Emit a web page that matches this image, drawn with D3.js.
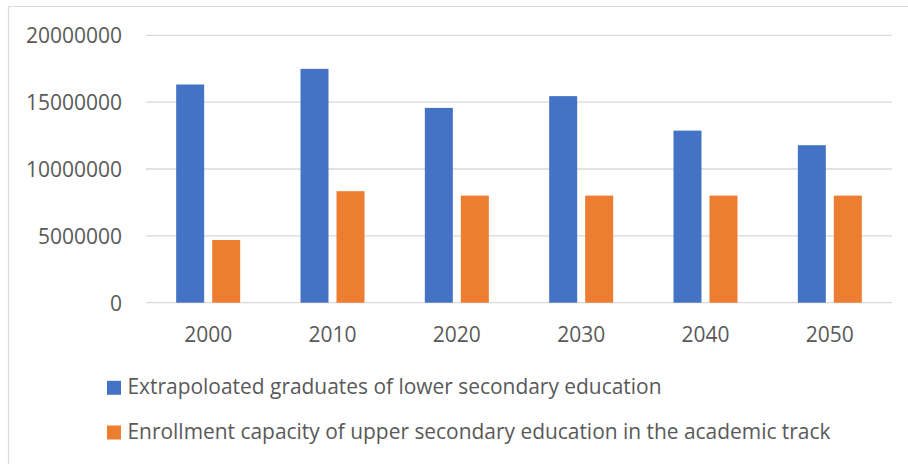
<!DOCTYPE html>
<html>
<head>
<meta charset="utf-8">
<script src="https://cdn.jsdelivr.net/npm/d3@7"></script>
<style>
  html, body { margin: 0; padding: 0; background: #fff; }
  svg { display: block; }
  text { font-family: "Open Sans", "Liberation Sans", sans-serif; fill: #595959; }
</style>
</head>
<body>
<svg id="chart" width="908" height="464"></svg>
<script>
const categories = ["2000", "2010", "2020", "2030", "2040", "2050"];
const seriesNames = [
  "Extrapoloated graduates of lower secondary education",
  "Enrollment capacity of upper secondary education in the academic track"
];
const graduates = [16320000, 17490000, 14570000, 15450000, 12870000, 11780000];
const capacity  = [4690000, 8340000, 8010000, 8010000, 8010000, 8010000];
const yTicks = [0, 5000000, 10000000, 15000000, 20000000];
const colors = ["#4472C4", "#ED7D31"];

const series = [graduates, capacity];
const svg = d3.select("#chart");

// chart frame (top and left border visible)
svg.append("line").attr("x1", 8.5).attr("x2", 908).attr("y1", 6.5).attr("y2", 6.5)
  .attr("stroke", "#d9d9d9").attr("stroke-width", 1.2);
svg.append("line").attr("x1", 8.5).attr("x2", 8.5).attr("y1", 6.5).attr("y2", 464)
  .attr("stroke", "#d9d9d9").attr("stroke-width", 1.2);

const plot = { left: 146, right: 892, top: 35.3, bottom: 302.7 };

const x = d3.scaleBand().domain(categories).range([plot.left, plot.right]).paddingInner(0).paddingOuter(0);
const y = d3.scaleLinear().domain([0, 20000000]).range([plot.bottom, plot.top]);

// gridlines
svg.append("g").selectAll("line").data(yTicks).join("line")
  .attr("x1", plot.left).attr("x2", plot.right)
  .attr("y1", d => y(d)).attr("y2", d => y(d))
  .attr("stroke", "#d9d9d9").attr("stroke-width", 1.3);

// y axis labels
const yAxis = d3.axisLeft(y).tickValues(yTicks).tickSize(0).tickPadding(0).tickFormat(d3.format("d"));
const gy = svg.append("g").attr("transform", `translate(122,0)`).call(yAxis);
gy.select(".domain").remove();
gy.selectAll("text").attr("font-size", 21).attr("fill", "#595959")
  .attr("font-family", "'Open Sans', 'Liberation Sans', sans-serif")
  .attr("dy", "0.36em");

// x axis labels
const xAxis = d3.axisBottom(x).tickSize(0).tickPadding(0);
const gx = svg.append("g").attr("transform", `translate(0,341.7)`).call(xAxis);
gx.select(".domain").remove();
gx.selectAll("text").attr("font-size", 21).attr("fill", "#595959")
  .attr("font-family", "'Open Sans', 'Liberation Sans', sans-serif")
  .attr("dy", "0").attr("y", 0);

// bars
const barW = 28, gap = 8;
const inner = d3.scaleBand().domain([0, 1]).range([0, barW * 2 + gap]).paddingInner(gap / (barW + gap) ).paddingOuter(0);
const groups = svg.append("g").selectAll("g").data(categories).join("g")
  .attr("transform", d => `translate(${x(d) + x.bandwidth() / 2 - (barW * 2 + gap) / 2},0)`);
groups.selectAll("rect").data((d, i) => series.map((s, k) => ({ k, v: s[i] }))).join("rect")
  .attr("x", d => inner(d.k))
  .attr("width", inner.bandwidth())
  .attr("y", d => y(d.v))
  .attr("height", d => y(0) - y(d.v))
  .attr("fill", d => colors[d.k]);

// legend
const legendY = [394.3, 439];
const legendW = [534, 703];
const lg = svg.append("g").selectAll("g").data(seriesNames).join("g");
lg.append("rect")
  .attr("x", 107).attr("width", 14)
  .attr("y", (d, i) => legendY[i] - 13.5).attr("height", 14)
  .attr("fill", (d, i) => colors[i]);
lg.append("text")
  .attr("x", 127.5).attr("y", (d, i) => legendY[i])
  .attr("font-size", 21)
  .attr("textLength", (d, i) => legendW[i])
  .attr("lengthAdjust", "spacingAndGlyphs")
  .text(d => d);
</script>
</body>
</html>
